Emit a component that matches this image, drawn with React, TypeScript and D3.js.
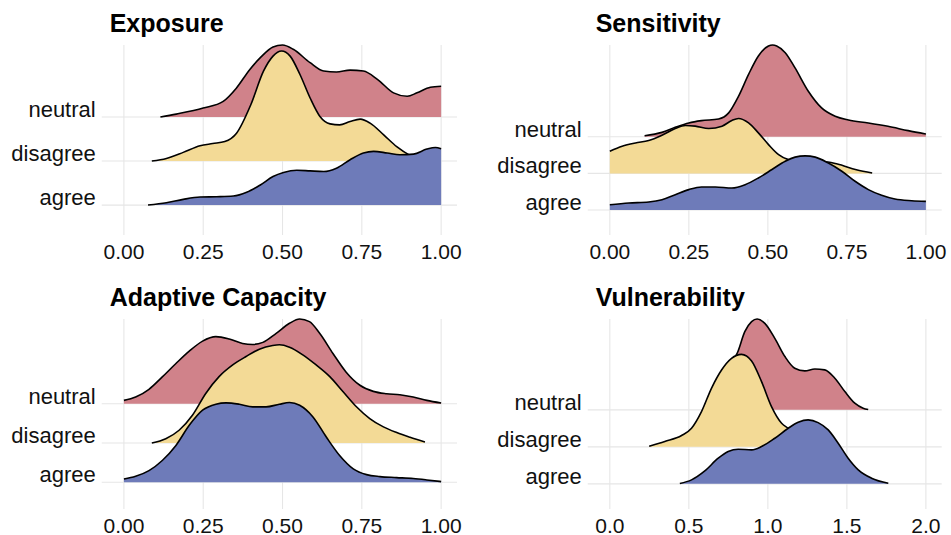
import React from "react";
import * as d3 from "d3";

// Response groups, listed bottom to top as they stack in every panel
const categories = ["agree", "disagree", "neutral"];
const groupFill: Record<string, string> = {
  neutral: "#d0828a",
  disagree: "#f3da96",
  agree: "#6e7bb9",
};

// Ridge height of the tallest density in a panel, in row units
const ridgeScale = 2.5;

const unitTicks = [0, 0.25, 0.5, 0.75, 1];
const unitTickLabels = ["0.00", "0.25", "0.50", "0.75", "1.00"];
const vulnTicks = [0, 0.5, 1, 1.5, 2];
const vulnTickLabels = ["0.0", "0.5", "1.0", "1.5", "2.0"];

// Densities as [score, % of the panel's highest density]
const exposureNeutral: [number, number][] = [
  [0.115, 0], [0.165, 2.7], [0.25, 8.2], [0.313, 14.3], [0.355, 26.5], [0.397, 43.3],
  [0.43, 54], [0.47, 63.7], [0.5, 65.5], [0.534, 61.6], [0.587, 49.4], [0.63, 41.8],
  [0.67, 40.9], [0.713, 42.7], [0.755, 41.8], [0.8, 34.1], [0.85, 22], [0.893, 18.9],
  [0.924, 22], [0.966, 27.1], [1.0, 28],
];
const exposureDisagree: [number, number][] = [
  [0.088, 0], [0.134, 2.4], [0.187, 7.9], [0.24, 14], [0.28, 15.9], [0.318, 17.7],
  [0.355, 25.3], [0.4, 51.2], [0.44, 81.7], [0.47, 95.4], [0.497, 100], [0.524, 95.4],
  [0.555, 78.7], [0.587, 57.3], [0.618, 40.5], [0.65, 33.8], [0.68, 32.9], [0.713, 36],
  [0.745, 38.1], [0.776, 34.5], [0.819, 23.8], [0.86, 13.1], [0.903, 4.9], [0.93, 1],
];
const exposureAgree: [number, number][] = [
  [0.076, 0], [0.134, 2.1], [0.187, 5.2], [0.24, 7.3], [0.292, 7.6], [0.345, 8.2],
  [0.387, 11.6], [0.43, 18.3], [0.47, 25.9], [0.503, 29.6], [0.545, 31.7], [0.587, 31.1],
  [0.63, 30.5], [0.67, 33.5], [0.713, 41.2], [0.755, 47.3], [0.787, 48.8], [0.83, 47.3],
  [0.87, 45.7], [0.913, 46.3], [0.955, 50.9], [0.982, 52.4], [1.0, 51.2],
];

const sensitivityNeutral: [number, number][] = [
  [0.11, 1], [0.165, 4.7], [0.207, 10.2], [0.25, 15], [0.29, 17.5], [0.344, 19.3],
  [0.376, 26], [0.407, 44], [0.439, 68], [0.47, 88], [0.502, 99], [0.515, 100],
  [0.528, 99], [0.555, 91.6], [0.586, 75], [0.628, 49.6], [0.67, 31.4], [0.713, 22.3],
  [0.755, 18.2], [0.818, 15], [0.88, 11.3], [0.944, 6.6], [1.0, 2.9],
];
const sensitivityDisagree: [number, number][] = [
  [0, 24.1], [0.039, 29.6], [0.081, 33.2], [0.123, 35.8], [0.165, 41.6], [0.207, 48.9],
  [0.239, 52.2], [0.27, 51.5], [0.313, 48.9], [0.355, 51.5], [0.386, 57.7], [0.407, 59.9],
  [0.439, 55.1], [0.47, 44.2], [0.502, 31.4], [0.534, 20.4], [0.565, 15], [0.607, 13.1],
  [0.65, 13], [0.69, 12.4], [0.72, 10.2], [0.78, 4], [0.83, 0.5],
];
const sensitivityAgree: [number, number][] = [
  [0, 5.8], [0.06, 7.7], [0.123, 8.8], [0.165, 11.3], [0.207, 16.8], [0.25, 22.3],
  [0.29, 25.2], [0.334, 25.2], [0.386, 24.1], [0.428, 27.7], [0.47, 35], [0.513, 44.2],
  [0.555, 53.3], [0.586, 57.7], [0.618, 59.1], [0.65, 57.7], [0.69, 51.5], [0.734, 42.3],
  [0.776, 31.4], [0.818, 22.3], [0.86, 16.1], [0.902, 12], [0.955, 10.2], [1.0, 9.5],
];

const adaptiveNeutral: [number, number][] = [
  [0, 3.4], [0.037, 6.8], [0.079, 14.7], [0.121, 27.3], [0.164, 41], [0.206, 53.6],
  [0.248, 63.8], [0.29, 68.3], [0.332, 65.9], [0.374, 61.4], [0.406, 60.4], [0.438, 62.5],
  [0.48, 71.7], [0.522, 81.9], [0.554, 86.3], [0.585, 83.6], [0.617, 71.7], [0.659, 51.2],
  [0.7, 32.4], [0.744, 18.8], [0.786, 12.6], [0.828, 10.2], [0.87, 9.2], [0.912, 6.8],
  [0.955, 3.4], [1.0, 0.7],
];
const adaptiveDisagree: [number, number][] = [
  [0.088, 0], [0.132, 4.4], [0.174, 13], [0.216, 28.3], [0.258, 50.5], [0.3, 67.6],
  [0.343, 79.5], [0.385, 88.1], [0.427, 95.6], [0.469, 99.3], [0.49, 100], [0.522, 97.6],
  [0.564, 89.8], [0.606, 79.5], [0.649, 67.6], [0.691, 52.2], [0.733, 36.9], [0.775, 24.9],
  [0.818, 16.4], [0.86, 10.6], [0.902, 5.8], [0.949, 1],
];
const adaptiveAgree: [number, number][] = [
  [0, 3.4], [0.037, 6.1], [0.079, 11.9], [0.121, 22.2], [0.164, 37.5], [0.206, 58],
  [0.248, 73.4], [0.29, 79.5], [0.322, 80.9], [0.364, 79.5], [0.406, 76.8], [0.448, 76.8],
  [0.49, 79.5], [0.522, 81.2], [0.554, 78.5], [0.596, 66.6], [0.638, 46.1], [0.68, 27.3],
  [0.723, 13.7], [0.765, 7.8], [0.807, 5.8], [0.86, 4.8], [0.912, 3.8], [0.955, 2.4],
  [1.0, 0.7],
];

const vulnerabilityNeutral: [number, number][] = [
  [0.76, 48], [0.808, 62], [0.854, 84.5], [0.897, 95.3], [0.932, 98.2], [0.981, 93.5],
  [1.044, 77.3], [1.108, 57.6], [1.17, 45], [1.234, 42.1], [1.297, 44.2], [1.36, 43.2],
  [1.424, 34.2], [1.487, 19.8], [1.55, 7.2], [1.603, 1.8], [1.635, 0.4],
];
const vulnerabilityDisagree: [number, number][] = [
  [0.249, 0.7], [0.348, 5.8], [0.454, 12.2], [0.517, 20.1], [0.58, 38.1], [0.643, 63.3],
  [0.707, 83.1], [0.77, 95.7], [0.833, 100], [0.897, 92.8], [0.96, 70.5], [1.023, 43.5],
  [1.087, 25.5], [1.13, 20], [1.2, 11], [1.3, 4], [1.4, 1],
];
const vulnerabilityAgree: [number, number][] = [
  [0.443, 0.4], [0.517, 4.3], [0.601, 14], [0.686, 27.7], [0.749, 34.9], [0.812, 37.4],
  [0.897, 36.7], [0.96, 40.3], [1.044, 49.3], [1.129, 60.1], [1.192, 66.5], [1.255, 69.1],
  [1.318, 66.2], [1.382, 58.3], [1.445, 43.9], [1.508, 27.7], [1.572, 15.1], [1.656, 6.1],
  [1.762, 0.7],
];

type Panel = {
  title: string;
  col: number;
  row: number;
  xMax: number;
  ticks: number[];
  tickLabels: string[];
  groups: Record<string, [number, number][]>;
};

const panels: Panel[] = [
  {
    title: "Exposure", col: 0, row: 0, xMax: 1, ticks: unitTicks, tickLabels: unitTickLabels,
    groups: { neutral: exposureNeutral, disagree: exposureDisagree, agree: exposureAgree },
  },
  {
    title: "Sensitivity", col: 1, row: 0, xMax: 1, ticks: unitTicks, tickLabels: unitTickLabels,
    groups: { neutral: sensitivityNeutral, disagree: sensitivityDisagree, agree: sensitivityAgree },
  },
  {
    title: "Adaptive Capacity", col: 0, row: 1, xMax: 1, ticks: unitTicks, tickLabels: unitTickLabels,
    groups: { neutral: adaptiveNeutral, disagree: adaptiveDisagree, agree: adaptiveAgree },
  },
  {
    title: "Vulnerability", col: 1, row: 1, xMax: 2, ticks: vulnTicks, tickLabels: vulnTickLabels,
    groups: { neutral: vulnerabilityNeutral, disagree: vulnerabilityDisagree, agree: vulnerabilityAgree },
  },
];

const W = 951;
const H = 535;
const colX: [number, number][] = [[101.7, 457], [587.7, 941.7]];
const rowY: [number, number][] = [[45, 235], [319, 509]];
const FONT = "'Liberation Sans', Arial, Helvetica, sans-serif";
const TEXT = "#111111";
const GRID = "#e6e6e6";

function RidgePanel({ p }: { p: Panel }) {
  const [left, right] = colX[p.col];
  const [top, bottom] = rowY[p.row];
  const x = d3.scaleLinear().domain([-0.07 * p.xMax, 1.05 * p.xMax]).range([left, right]);

  const heightOf = (d: number) => (d / 100) * ridgeScale;
  const upper = d3.max(categories, (c, i) => i + 1 + heightOf(d3.max(p.groups[c], (v) => v[1]) ?? 0)) ?? 4;
  const y = d3.scaleLinear().domain([0.32, upper]).range([bottom, top]);

  // draw back to front: top row first so lower ridges overlap it
  const drawOrder = [...categories].reverse();

  return (
    <g>
      {p.ticks.map((t) => (
        <line key={"v" + t} x1={x(t)} x2={x(t)} y1={top} y2={bottom} stroke={GRID} strokeWidth={1.1} />
      ))}
      {categories.map((c, i) => (
        <line key={"h" + c} x1={left} x2={right} y1={y(i + 1)} y2={y(i + 1)} stroke={GRID} strokeWidth={1.1} />
      ))}
      {drawOrder.map((c) => {
        const base = categories.indexOf(c) + 1;
        const pts = p.groups[c];
        const area = d3
          .area<[number, number]>()
          .x((d) => x(d[0]))
          .y0(y(base))
          .y1((d) => y(base + heightOf(d[1])))
          .curve(d3.curveMonotoneX);
        const line = d3
          .line<[number, number]>()
          .x((d) => x(d[0]))
          .y((d) => y(base + heightOf(d[1])))
          .curve(d3.curveMonotoneX);
        return (
          <g key={c}>
            <path d={area(pts) ?? ""} fill={groupFill[c]} stroke="none" />
            <path d={line(pts) ?? ""} fill="none" stroke="#000" strokeWidth={1.6} strokeLinejoin="round" />
          </g>
        );
      })}
      {categories.map((c, i) => (
        <text key={"l" + c} x={left - 6} y={y(i + 1)} textAnchor="end" fontSize={22} fill={TEXT} fontFamily={FONT}>
          {c}
        </text>
      ))}
      {p.ticks.map((t, i) => (
        <text key={"t" + t} x={x(t)} y={bottom + 23.5} textAnchor="middle" fontSize={21} fill={TEXT} fontFamily={FONT}>
          {p.tickLabels[i]}
        </text>
      ))}
      <text x={left + 8} y={top - 13} fontSize={25} fontWeight="bold" fill="#000" fontFamily={FONT}>
        {p.title}
      </text>
    </g>
  );
}

export default function App() {
  return (
    <svg
      width={W}
      height={H}
      viewBox={`0 0 ${W} ${H}`}
      style={{ position: "absolute", left: 0, top: 0, background: "#fff" }}
    >
      <rect width={W} height={H} fill="#fff" />
      {panels.map((p) => (
        <RidgePanel key={p.title} p={p} />
      ))}
    </svg>
  );
}
